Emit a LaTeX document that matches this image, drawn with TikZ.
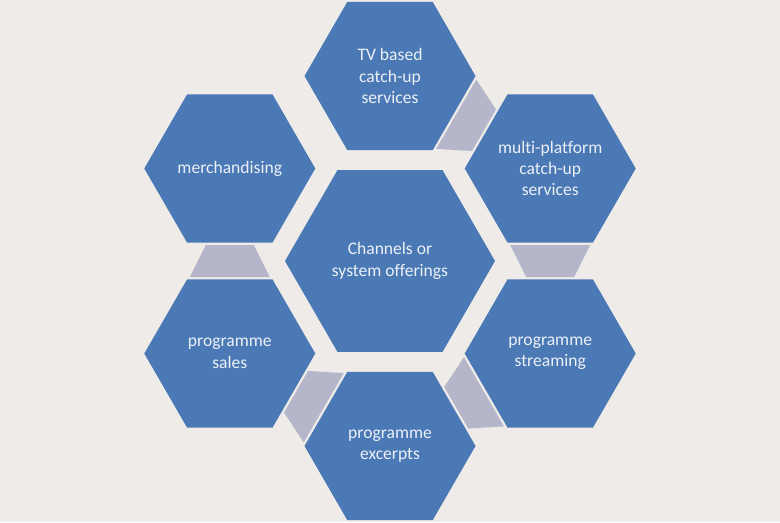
\documentclass[tikz,border=0pt]{standalone}
\usepackage{fontspec}
\setmainfont[Ligatures=NoCommon]{Carlito}
\usetikzlibrary{shapes.geometric,calc}

\definecolor{pagegrey}{RGB}{238,235,232}
\definecolor{hexblue}{RGB}{74,121,181}
\definecolor{linklilac}{RGB}{182,182,202}
\definecolor{hextext}{RGB}{236,240,246}

% trapezoid in the gap between two outer hexagons, wide at #1, narrow at #2
\newcommand{\gaplink}[2]{%
  \fill[linklilac] ($(#1)!1.53cm!(#2)!0.8cm!90:(#2)$)
    -- ($(#1)!1.53cm!(#2)!0.8cm!-90:(#2)$)
    -- ($(#2)!1.53cm!(#1)!0.48cm!90:(#1)$)
    -- ($(#2)!1.53cm!(#1)!0.48cm!-90:(#1)$) -- cycle;}

\begin{document}
\begin{tikzpicture}[
    hexa/.style={regular polygon, regular polygon sides=6, fill=hexblue,
      text=hextext, inner sep=0pt, align=center, font=\fontsize{10}{12.2}\selectfont},
    outerhex/.style={hexa, minimum size=3.42cm},
    centrehex/.style={hexa, minimum size=4.2cm}
  ]

            \fill[pagegrey] (-7.8,-5.22) rectangle (7.8,5.22);
            \useasboundingbox (-7.8,-5.22) rectangle (7.8,5.22);

            \node[centrehex] (hub) at (0,0) {Channels or\\system offerings};

            \node[outerhex] (tv) at (90:3.7) {TV based\\catch-up\\services};
            \node[outerhex] (multi) at (30:3.7) {multi-platform\\catch-up\\services};
            \node[outerhex] (stream) at (-30:3.7) {programme\\streaming};
            \node[outerhex] (excerpt) at (-90:3.7) {programme\\excerpts};
            \node[outerhex] (sales) at (-150:3.7) {programme\\sales};
            \node[outerhex] (merch) at (150:3.7) {merchandising};

            \gaplink{tv}{multi}
            \gaplink{multi}{stream}
            \gaplink{stream}{excerpt}
            \gaplink{excerpt}{sales}
            \gaplink{sales}{merch}

        \end{tikzpicture}
\end{document}
